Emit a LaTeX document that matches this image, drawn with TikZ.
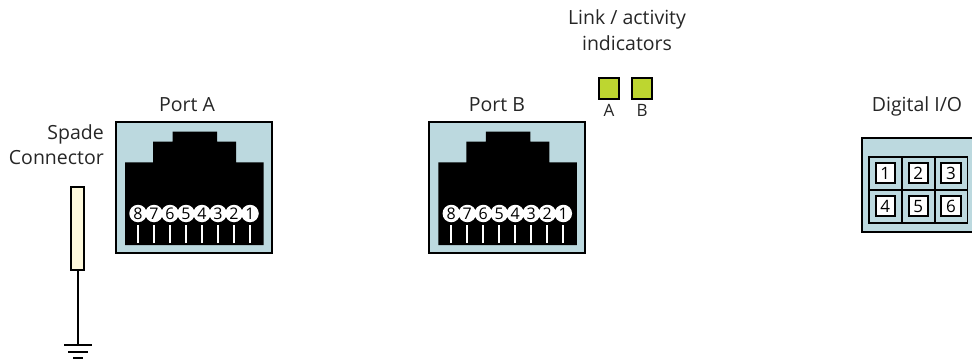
\documentclass[tikz,border=0pt]{standalone}
\usepackage{fontspec}
\setmainfont{Open Sans}
\tikzset{
  x=1pt,y=-1pt,
  lbl/.style={font=\fontsize{19.5}{25.5}\selectfont,align=center,text=black!85,inner sep=0pt},
  portbox/.style={draw=black,line width=2pt,fill=portblue},
  pincirc/.style={circle,fill=white,minimum size=17.5pt,inner sep=0pt,font=\fontsize{16}{16}\selectfont},
  ledbox/.style={draw=black,line width=2pt,fill=ledgreen,minimum size=20.5pt,inner sep=0pt},
  ledtxt/.style={lbl,font=\fontsize{17}{17}\selectfont},
  iocell/.style={draw=black,line width=1.8pt,minimum size=33pt,inner sep=0pt},
  iopin/.style={draw=black,line width=2pt,fill=white,minimum size=19.5pt,inner sep=0pt,font=\fontsize{17}{17}\selectfont},
  wire/.style={draw=black,line width=2pt},
}
\definecolor{portblue}{HTML}{BCD9DF}
\definecolor{ledgreen}{HTML}{BDD630}
\definecolor{spadefill}{HTML}{FEF9DC}
\begin{document}
\begin{tikzpicture}
\useasboundingbox (0,0) rectangle (972,364);
% ports
\foreach \name/\dx/\tx/\ttl in {porta/0/187/Port A,portb/313.3/183.7/Port B}{
  \begin{scope}[xshift=\dx pt]
    \node[portbox,minimum width=155.5pt,minimum height=131pt,inner sep=0pt] (\name) at (193.8,187.8) {};
    \fill[black] (125,245) -- (125,162.3) -- (153,162.3) -- (153,141.7) -- (172.5,141.7) -- (172.5,131.7)
      -- (217,131.7) -- (217,141.7) -- (236,141.7) -- (236,162.3) -- (263.5,162.3) -- (263.5,245) -- cycle;
    \foreach \n in {1,...,8}{
      \node[pincirc] (\name pin\n) at (250-16*\n+16,213.5) {\n};
      \coordinate (\name foot\n) at (250-16*\n+16,243);
      \draw[white,line width=1.8pt] (\name foot\n) -- ++(0,-18);
    }
    \node[lbl] (\name title) at (\tx,105) {\ttl};
  \end{scope}
}
% spade connector and earth
\node[wire,fill=spadefill,minimum width=13.5pt,minimum height=83.5pt,inner sep=0pt] (spade) at (77.5,228.5) {};
\node[lbl,align=right,anchor=east] (spadetitle) at (104,144.5) {Spade\\Connector};
\coordinate (earth) at (77.5,345);
\draw[wire] (spade.south) -- (earth);
\draw[wire] (64,345) -- (91.5,345);
\draw[wire] (68,351.5) -- (87.5,351.5);
\draw[wire] (73,358) -- (82.5,358);
% indicators
\node[lbl] (linktitle) at (627,30) {Link / activity\\indicators};
\node[ledbox] (leda) at (609,88.5) {};
\node[ledbox] (ledb) at (642,88.5) {};
\node[ledtxt] (ledatxt) at (609,110) {A};
\node[ledtxt] (ledbtxt) at (642,110) {B};
% digital io
\node[lbl] (iotitle) at (917,106) {Digital I/O};
\fill[portblue] (861.7,138.3) rectangle (972,232.3);
\draw[wire] (972,138.3) -- (861.7,138.3) -- (861.7,232.3) -- (972,232.3);
\foreach \n/\px/\py in {1/885.3/173.2,2/918.3/173.2,3/951/173.2,4/885.3/206.2,5/918.3/206.2,6/951/206.2}{
  \node[iocell] (iocell\n) at (\px,\py) {};
  \node[iopin] (iopin\n) at (\px,\py) {\n};
}
\end{tikzpicture}
\end{document}
